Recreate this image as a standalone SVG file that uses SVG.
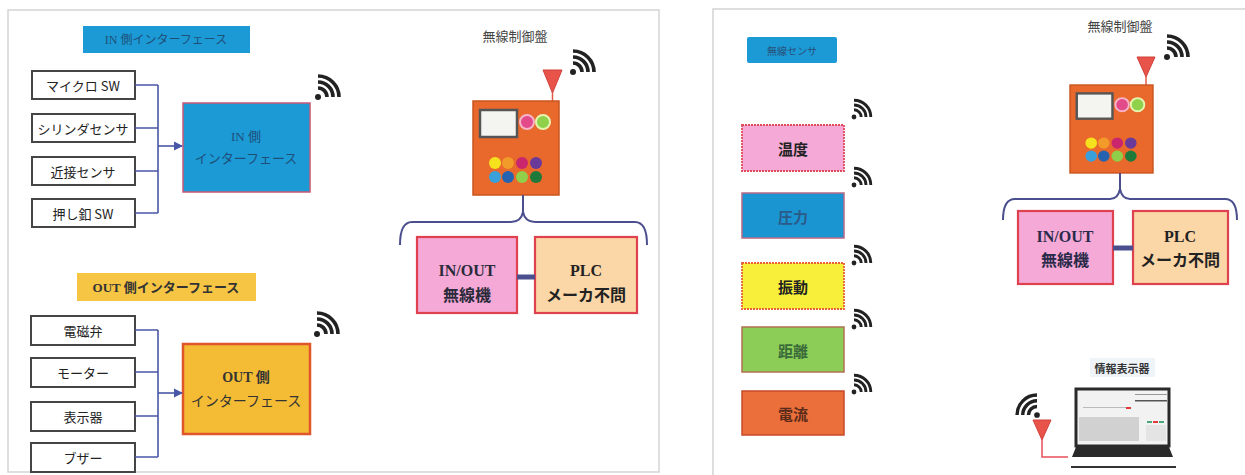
<svg xmlns="http://www.w3.org/2000/svg" width="1245" height="475" viewBox="0 0 1245 475">
  <defs>
    <style>
      .panel { fill: #ffffff; stroke: #d4d4d4; stroke-width: 1.5; }
      .src { fill: #ffffff; stroke: #454545; stroke-width: 2; }
      .src-t { font-family: "Noto Sans CJK JP", sans-serif; font-size: 13px; fill: #222; text-anchor: middle; dominant-baseline: central; }
      .wire { fill: none; stroke: #4a57a6; stroke-width: 1.6; }
      .brace { fill: none; stroke: #4b4f8e; stroke-width: 2; }
      .bold { font-family: "Liberation Serif", "Noto Sans CJK JP", serif; font-weight: bold; text-anchor: middle; dominant-baseline: central; }
      .lbl { font-family: "Noto Sans CJK JP", sans-serif; font-size: 13px; fill: #444; text-anchor: middle; dominant-baseline: central; }
      .unit { stroke: #e0414f; stroke-width: 2.2; }
      .sensor-t { font-family: "Noto Sans CJK JP", sans-serif; font-size: 15px; font-weight: bold; text-anchor: middle; dominant-baseline: central; }
      .ant { fill: #e8534a; stroke: #d0403a; stroke-width: 1; }
    </style>
    <g id="wifi">
      <circle cx="0" cy="0" r="3" fill="#222"/>
      <path d="M0,-9 A9,9 0 0 1 9,0 M0,-15 A15,15 0 0 1 15,0 M0,-21 A21,21 0 0 1 21,0" fill="none" stroke="#222" stroke-width="3.6"/>
    </g>
    <marker id="arrow" viewBox="0 0 8 8" refX="7" refY="4" markerWidth="6" markerHeight="6" orient="auto">
      <path d="M0,0 L8,4 L0,8 Z" fill="#4a57a6"/>
    </marker>
    <g id="ctrl">
      <!-- control cabinet drawn around origin at its top-left corner -->
      <rect x="0" y="0" width="86" height="94" fill="#e9692c" stroke="#c9551f" stroke-width="1.5"/>
      <rect x="7" y="9" width="37" height="27" fill="#f4f4f0" stroke="#555" stroke-width="2.5"/>
      <circle cx="54" cy="21" r="7" fill="#e24a8a" stroke="#f7b3c8" stroke-width="2"/>
      <circle cx="70" cy="21" r="7" fill="#8fd14a" stroke="#e5f5b0" stroke-width="2"/>
      <circle cx="22" cy="62" r="6" fill="#f5e21c"/>
      <circle cx="35" cy="62" r="6" fill="#f29a2a"/>
      <circle cx="49" cy="62" r="6" fill="#c9266e"/>
      <circle cx="63" cy="62" r="6" fill="#6a3a9a"/>
      <circle cx="22" cy="76" r="6" fill="#3aa0dc"/>
      <circle cx="35" cy="76" r="6" fill="#2563b0"/>
      <circle cx="49" cy="76" r="6" fill="#8fcf4a"/>
      <circle cx="63" cy="76" r="6" fill="#1e7a3a"/>
    </g>
  </defs>

  <rect x="0" y="0" width="1245" height="475" fill="#ffffff"/>

  <!-- panel frames -->
  <rect class="panel" x="8" y="10" width="651" height="462"/>
  <rect class="panel" x="713" y="9" width="560" height="480"/>

  <!-- ============ left panel : wired interfaces ============ -->
  <g id="in-title">
    <rect x="83" y="26" width="167" height="27" fill="#1b9ad6"/>
    <text x="166" y="40" font-family="Liberation Serif, Noto Sans CJK JP, serif" font-size="12" fill="#1f4f78" text-anchor="middle" dominant-baseline="central">IN 側インターフェース</text>
  </g>

  <g id="in-microsw"><rect class="src" x="32" y="71" width="103" height="28"/><text class="src-t" x="83" y="85">マイクロ SW</text></g>
  <g id="in-cylinder"><rect class="src" x="32" y="114" width="103" height="28"/><text class="src-t" x="83" y="128">シリンダセンサ</text></g>
  <g id="in-proximity"><rect class="src" x="32" y="157" width="103" height="28"/><text class="src-t" x="83" y="171">近接センサ</text></g>
  <g id="in-pushbtn"><rect class="src" x="32" y="199" width="103" height="28"/><text class="src-t" x="83" y="213">押し釦 SW</text></g>

  <g id="in-if">
    <rect x="183" y="103" width="127" height="89" fill="#1b9ad6" stroke="#c85a78" stroke-width="1.5"/>
    <text x="246" y="136" font-family="Liberation Serif, Noto Sans CJK JP, serif" font-size="13" fill="#1f4f78" text-anchor="middle" dominant-baseline="central">IN 側</text>
    <text x="246" y="157" font-family="Noto Sans CJK JP, sans-serif" font-size="13" fill="#1f4f78" text-anchor="middle" dominant-baseline="central">インターフェース</text>
    <use href="#wifi" x="318" y="97"/>
  </g>

  <g id="out-title">
    <rect x="77" y="273" width="179" height="28" fill="#f6c543"/>
    <text class="bold" x="166" y="287" font-size="13" fill="#333">OUT 側インターフェース</text>
  </g>

  <g id="out-valve"><rect class="src" x="31" y="316" width="104" height="29"/><text class="src-t" x="83" y="330">電磁弁</text></g>
  <g id="out-motor"><rect class="src" x="31" y="358" width="104" height="29"/><text class="src-t" x="83" y="372">モーター</text></g>
  <g id="out-display"><rect class="src" x="31" y="402" width="104" height="29"/><text class="src-t" x="83" y="416">表示器</text></g>
  <g id="out-buzzer"><rect class="src" x="31" y="443" width="104" height="29"/><text class="src-t" x="83" y="457">ブザー</text></g>

  <g id="out-if">
    <rect x="183" y="344" width="127" height="90" fill="#f4bc34" stroke="#e0562a" stroke-width="2.5"/>
    <text class="bold" x="246" y="377" font-size="14" fill="#333">OUT 側</text>
    <text x="246" y="400" font-family="Noto Sans CJK JP, sans-serif" font-size="14" fill="#333" text-anchor="middle" dominant-baseline="central">インターフェース</text>
    <use href="#wifi" x="317" y="334"/>
  </g>

  <!-- left control cabinet -->
  <g id="ctrl-left">
    <text class="lbl" x="515" y="35">無線制御盤</text>
    <use href="#wifi" x="573" y="72"/>
    <path class="ant" d="M543,70 L562,70 L552.5,93 Z"/>
    <line x1="552.5" y1="92" x2="552.5" y2="102" stroke="#e05a4a" stroke-width="1.5"/>
    <use href="#ctrl" x="473" y="101"/>
  </g>

  <g id="unit-left-io">
    <rect class="unit" x="417" y="237" width="100" height="76" fill="#f5a9d6"/>
    <text class="bold" x="467" y="270" font-size="16" fill="#2a2a3a">IN/OUT</text>
    <text x="467" y="294" font-family="Noto Sans CJK JP, sans-serif" font-size="16" font-weight="bold" fill="#2a2a3a" text-anchor="middle" dominant-baseline="central">無線機</text>
  </g>
  <g id="unit-left-plc">
    <rect class="unit" x="535" y="237" width="102" height="76" fill="#fbd6a6"/>
    <text class="bold" x="586" y="270" font-size="16" fill="#222">PLC</text>
    <text x="586" y="294" font-family="Noto Sans CJK JP, sans-serif" font-size="16" font-weight="bold" fill="#222" text-anchor="middle" dominant-baseline="central">メーカ不問</text>
  </g>

  <!-- ============ right panel : wireless sensors ============ -->
  <g id="sensor-title">
    <rect x="747" y="37" width="90" height="26" rx="2" fill="#1b9ad6"/>
    <text x="792" y="50" font-family="Noto Sans CJK JP, sans-serif" font-size="10" fill="#2a4f78" text-anchor="middle" dominant-baseline="central">無線センサ</text>
  </g>

  <g id="sensor-temp">
    <rect x="742" y="125" width="102" height="46" fill="#f5a9d6" stroke="#e04a5a" stroke-width="1.8" stroke-dasharray="2 1"/>
    <text class="sensor-t" x="793" y="148" fill="#222">温度</text>
    <use href="#wifi" transform="translate(854 117) scale(0.8)"/>
  </g>
  <g id="sensor-press">
    <rect x="742" y="193" width="102" height="45" fill="#1b95d2" stroke="#b86a86" stroke-width="1.5"/>
    <text class="sensor-t" x="793" y="216" fill="#2a5a88" font-weight="normal">圧力</text>
    <use href="#wifi" transform="translate(854 185) scale(0.8)"/>
  </g>
  <g id="sensor-vib">
    <rect x="742" y="263" width="102" height="46" fill="#f7ef3a" stroke="#e8603a" stroke-width="1.8" stroke-dasharray="2 1"/>
    <text class="sensor-t" x="793" y="286" fill="#222">振動</text>
    <use href="#wifi" transform="translate(854 263) scale(0.8)"/>
  </g>
  <g id="sensor-dist">
    <rect x="742" y="327" width="102" height="45" fill="#8ccd58" stroke="#b07050" stroke-width="1.5"/>
    <text class="sensor-t" x="793" y="350" fill="#3a6a3a">距離</text>
    <use href="#wifi" transform="translate(854 327) scale(0.8)"/>
  </g>
  <g id="sensor-current">
    <rect x="742" y="391" width="102" height="44" fill="#ea6f3a" stroke="#c84a2a" stroke-width="1.5"/>
    <text class="sensor-t" x="793" y="413" fill="#5a2a1a">電流</text>
    <use href="#wifi" transform="translate(854 392) scale(0.8)"/>
  </g>

  <!-- right control cabinet -->
  <g id="ctrl-right">
    <text class="lbl" x="1120" y="25">無線制御盤</text>
    <use href="#wifi" x="1167" y="57"/>
    <path class="ant" d="M1137,57 L1155,57 L1146,77 Z"/>
    <line x1="1146" y1="76" x2="1146" y2="85" stroke="#e05a4a" stroke-width="1.5"/>
    <use href="#ctrl" transform="translate(1070 85) scale(0.965 0.936)"/>
  </g>

  <g id="unit-right-io">
    <rect class="unit" x="1018" y="211" width="95" height="73" fill="#f5a9d6"/>
    <text class="bold" x="1065" y="236" font-size="16" fill="#2a2a4a">IN/OUT</text>
    <text x="1065" y="259" font-family="Noto Sans CJK JP, sans-serif" font-size="16" font-weight="bold" fill="#2a2a4a" text-anchor="middle" dominant-baseline="central">無線機</text>
  </g>
  <g id="unit-right-plc">
    <rect class="unit" x="1133" y="211" width="95" height="73" fill="#fbd6a6"/>
    <text class="bold" x="1180" y="236" font-size="16" fill="#222">PLC</text>
    <text x="1180" y="259" font-family="Noto Sans CJK JP, sans-serif" font-size="16" font-weight="bold" fill="#222" text-anchor="middle" dominant-baseline="central">メーカ不問</text>
  </g>

  <!-- information display terminal -->
  <g id="info-display">
    <rect x="1090" y="358" width="65" height="19" fill="#eef4f8"/>
    <text x="1122" y="368" font-family="Noto Sans CJK JP, sans-serif" font-size="11" font-weight="bold" fill="#333" text-anchor="middle" dominant-baseline="central">情報表示器</text>
    <rect x="1076" y="389" width="93" height="57" fill="#f2f2f2" stroke="#2a2a2a" stroke-width="3"/>
    <rect x="1079" y="417" width="60" height="24" fill="#c8c8c8" opacity="0.8"/>
    <rect x="1135" y="394" width="32" height="1" fill="#999"/>
    <rect x="1135" y="400" width="32" height="1.5" fill="#555"/>
    <rect x="1083" y="407" width="45" height="1" fill="#bbb"/>
    <rect x="1126" y="407" width="5" height="2" fill="#e03a3a"/>
    <rect x="1147" y="421" width="5" height="2" fill="#4aa878"/>
    <rect x="1153" y="421" width="5" height="2" fill="#e03a3a"/>
    <rect x="1159" y="421" width="5" height="2" fill="#4aa878"/>
    <rect x="1146" y="425" width="20" height="16" fill="#e4e4e4"/>
    <path d="M1076,447 L1169,447 L1173,457 L1072,457 Z" fill="#2a2a2a"/>
    <rect x="1071" y="466" width="105" height="2" fill="#333"/>
    <path class="ant" d="M1033,420 L1051,420 L1042,440 Z"/>
    <path d="M1042,439 L1042,457 L1068,457" fill="none" stroke="#e8505a" stroke-width="1.5"/>
    <use href="#wifi" transform="translate(1037 415) scale(-0.95 0.95)"/>
  </g>

  <!-- connectors -->
  <g id="connectors">
    <path class="wire" d="M135,85 H158 M135,128 H158 M135,171 H158 M135,213 H158 M158,85 V213"/>
    <line class="wire" x1="158" y1="146" x2="182" y2="146" marker-end="url(#arrow)"/>
    <path class="wire" d="M135,330 H158 M135,372 H158 M135,416 H158 M135,457 H158 M158,330 V457"/>
    <line class="wire" x1="158" y1="393" x2="182" y2="393" marker-end="url(#arrow)"/>
    <line class="brace" x1="523" y1="195" x2="523" y2="212"/>
    <path class="brace" d="M400,245 Q400,222 412,222 L511,222 Q521,222 523,212 Q525,222 535,222 L635,222 Q647,222 647,245"/>
    <line x1="517" y1="277" x2="535" y2="277" stroke="#4b4f8e" stroke-width="5"/>
    <line class="brace" x1="1120" y1="173" x2="1120" y2="189"/>
    <path class="brace" d="M1003,220 Q1003,199 1015,199 L1110,199 Q1118,199 1120,189 Q1122,199 1130,199 L1225,199 Q1237,199 1237,220"/>
    <line x1="1113" y1="248" x2="1133" y2="248" stroke="#4b4f8e" stroke-width="5"/>
  </g>
</svg>
